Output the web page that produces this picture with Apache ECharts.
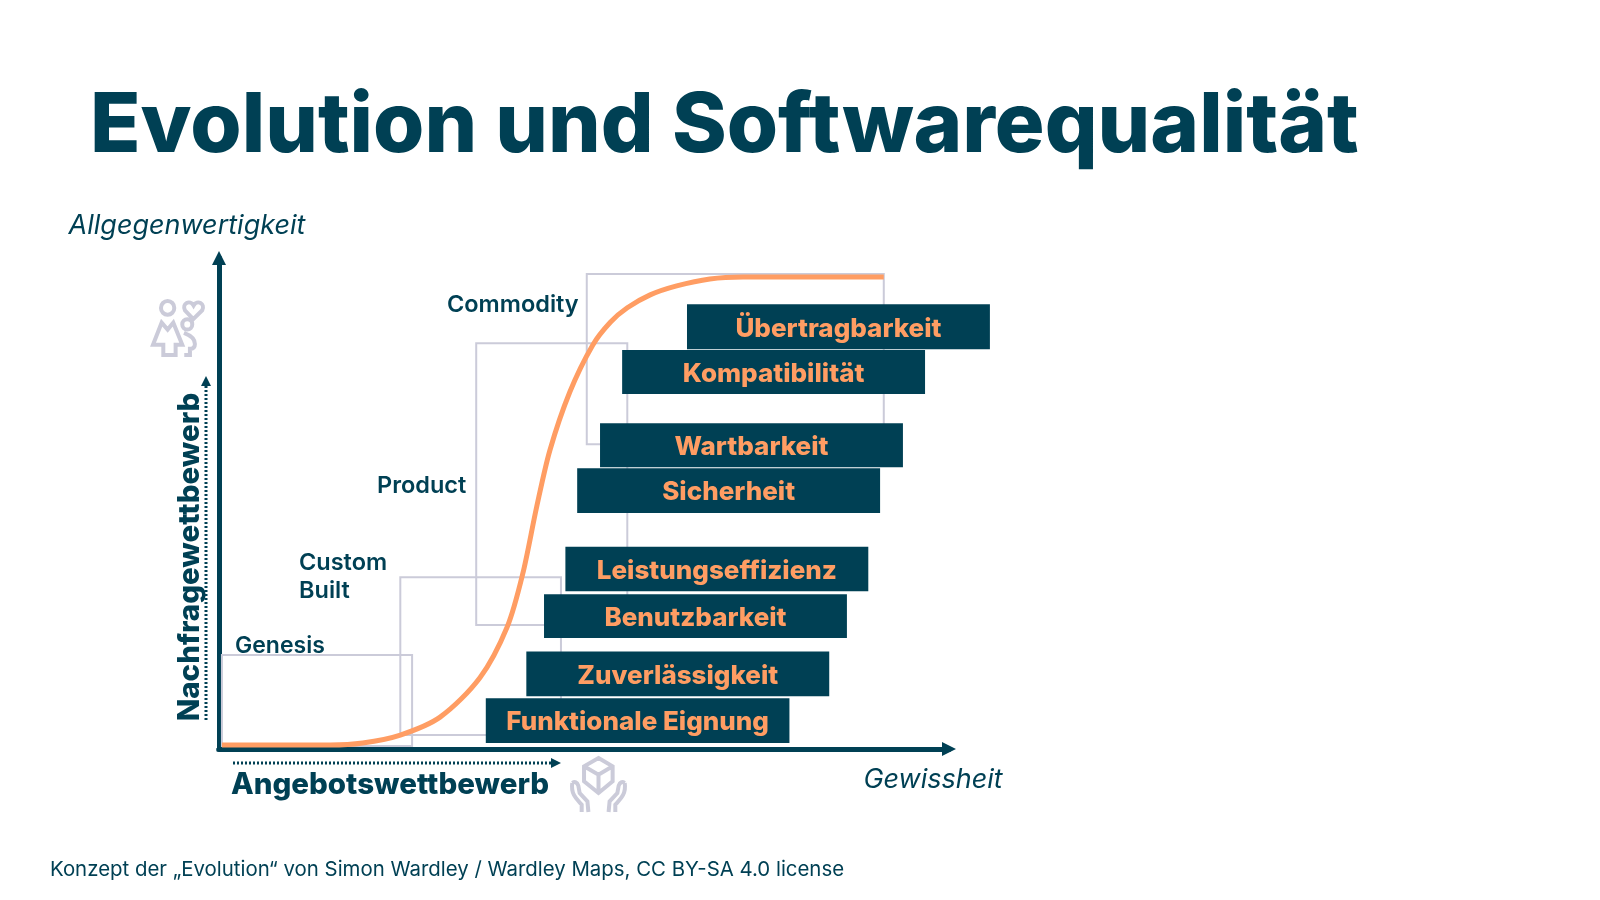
<!DOCTYPE html>
<html>
<head>
<meta charset="utf-8">
<style>
  html, body { margin: 0; background: #fff; }
  #chart { width: 1600px; height: 900px; }
</style>
<script src="https://cdn.jsdelivr.net/npm/echarts@6/dist/echarts.min.js"></script>
</head>
<body>
<div id="chart"></div>
<script>
var curveX = [0.4, 15.1, 19.5, 24.6, 30.0, 35.4, 39.1, 41.2, 43.1, 44.9, 47.6, 50.7, 53.1, 55.4, 58.5, 62.1, 66.6, 71.1, 90.2];
var curveY = [0.8, 0.8, 1.2, 2.8, 6.4, 14.3, 24.5, 35.1, 48.6, 60.0, 71.7, 81.1, 85.7, 88.6, 91.2, 93.0, 94.4, 94.8, 94.8];

var stageNames = ['Genesis', 'Custom\nBuilt', 'Product', 'Commodity'];
var stageX0 = [0.4, 24.6, 34.9, 49.9];
var stageX1 = [26.2, 46.4, 55.4, 90.2];
var stageY0 = [0.6, 2.8, 24.9, 61.2];
var stageY1 = [18.9, 34.5, 81.5, 95.4];

var qualityNames = ['Funktionale Eignung', 'Zuverlässigkeit', 'Benutzbarkeit', 'Leistungseffizienz', 'Sicherheit', 'Wartbarkeit', 'Kompatibilität', 'Übertragbarkeit'];
var qualityX0 = [36.2, 41.7, 44.1, 47.0, 48.6, 51.7, 54.7, 63.5];
var qualityX1 = [77.4, 82.8, 85.2, 88.1, 89.7, 92.8, 95.8, 104.6];
var qualityY0 = [1.2, 10.6, 22.3, 31.7, 47.4, 56.6, 71.3, 80.3];
var qualityY1 = [10.2, 19.6, 31.1, 40.6, 56.4, 65.4, 80.1, 89.3];

var dark = '#004054';
var orange = '#ff9d63';
var grey = '#cbcbd9';
var font = 'Inter';

var familyIcon = 'M 48 55 A 20 20 0 1 0 88 55 A 20 20 0 1 0 48 55 Z ' +
  'M 50 98 L 68 118 L 85 98 L 112 162 L 92 162 L 92 192 L 55 192 L 55 162 L 24 162 Z ' +
  'M 112 103 A 15 15 0 1 0 142 103 A 15 15 0 1 0 112 103 Z ' +
  'M 117 128 Q 150 140 150 160 Q 150 174 135 174 L 135 192 L 118 192 ' +
  'M 145 88 L 120 62 C 110 42 135 30 146 48 C 157 30 182 42 172 62 Z';
var handsIcon = 'M 118 25 L 160 50 L 160 95 L 118 130 L 75 95 L 75 50 Z ' +
  'M 75 50 L 118 75 L 160 50 M 118 75 L 118 130 ' +
  'M 40 100 C 35 135 55 150 68 165 L 68 187 M 40 100 Q 52 92 58 108 L 62 130 L 85 155 L 88 187 ' +
  'M 196 100 C 201 135 181 150 168 165 L 168 187 M 196 100 Q 184 92 178 108 L 174 130 L 151 155 L 148 187';

var stageData = stageNames.map(function (n, i) {
  return [stageX0[i], stageX1[i], stageY0[i], stageY1[i], n];
});
var qualityData = qualityNames.map(function (n, i) {
  return [qualityX0[i], qualityX1[i], qualityY0[i], qualityY1[i], n];
});
var curveData = curveX.map(function (x, i) {
  return [x, curveY[i]];
});

function rectOf(api) {
  var a = api.coord([api.value(0), api.value(3)]);
  var b = api.coord([api.value(1), api.value(2)]);
  return { x: a[0], y: a[1], width: b[0] - a[0], height: b[1] - a[1] };
}

var chart = echarts.init(document.getElementById('chart'), null, { renderer: 'canvas' });

var option = {
  animation: false,
  backgroundColor: '#fff',
  title: [
    {
      text: 'Evolution und Softwarequalität',
      left: 85, top: 81,
      textStyle: { color: dark, fontFamily: font, fontWeight: 800, fontSize: 83 }
    },
    {
      text: 'Konzept der „Evolution“ von Simon Wardley / Wardley Maps, CC BY-SA 4.0 license',
      left: 45, top: 855,
      textStyle: { color: dark, fontFamily: font, fontWeight: 400, fontSize: 20.4 }
    }
  ],
  // axes stop at the base of the arrow head, the head itself sticks out to the tip
  grid: { left: 219, top: 258, width: 730, height: 491 },
  xAxis: {
    type: 'value', min: 0, max: 99.05,
    name: 'Gewissheit', nameLocation: 'end', nameGap: -16,
    nameTextStyle: {
      color: dark, fontFamily: font, fontStyle: 'italic', fontSize: 27,
      align: 'center', verticalAlign: 'top', padding: [17, 0, 0, 0]
    },
    axisLine: {
      show: true, onZero: false,
      symbol: ['none', 'triangle'], symbolSize: [14, 14],
      lineStyle: { color: dark, width: 5 }
    },
    axisTick: { show: false }, axisLabel: { show: false }, splitLine: { show: false }
  },
  yAxis: {
    type: 'value', min: 0, max: 98.6,
    name: 'Allgegenwertigkeit', nameLocation: 'end', nameGap: 19,
    nameTextStyle: {
      color: dark, fontFamily: font, fontStyle: 'italic', fontSize: 27,
      align: 'center', padding: [0, 64, 0, 0]
    },
    axisLine: {
      show: true, onZero: false,
      symbol: ['none', 'triangle'], symbolSize: [14, 14],
      lineStyle: { color: dark, width: 5 }
    },
    axisTick: { show: false }, axisLabel: { show: false }, splitLine: { show: false }
  },
  series: [
    {
      // grey boxes of the four stages
      type: 'custom',
      z: 1,
      data: stageData,
      renderItem: function (params, api) {
        return {
          type: 'rect',
          shape: rectOf(api),
          style: { fill: 'none', stroke: grey, lineWidth: 2 }
        };
      }
    },
    {
      type: 'line',
      z: 2,
      data: curveData,
      smooth: 0.3,
      showSymbol: false,
      lineStyle: { color: orange, width: 5 }
    },
    {
      type: 'custom',
      z: 3,
      data: qualityData,
      renderItem: function (params, api) {
        return {
          type: 'rect',
          shape: rectOf(api),
          style: { fill: dark },
          textContent: {
            style: {
              text: qualityNames[params.dataIndex],
              fill: orange,
              fontFamily: font, fontWeight: 800, fontSize: 26
            }
          },
          textConfig: { position: 'inside', offset: [0, 2] }
        };
      }
    },
    {
      // the two grey icons, graphic component has no path element
      type: 'custom',
      coordinateSystem: 'none',
      z: 4,
      data: [0],
      renderItem: function () {
        return {
          type: 'group',
          children: [
            {
              type: 'path',
              shape: { x: 153, y: 301, width: 50, height: 54, layout: 'cover', pathData: familyIcon },
              style: { fill: 'none', stroke: grey, lineWidth: 4 }
            },
            {
              type: 'path',
              shape: { x: 572, y: 758, width: 53, height: 54, layout: 'cover', pathData: handsIcon },
              style: { fill: 'none', stroke: grey, lineWidth: 4 }
            }
          ]
        };
      }
    }
  ],
  graphic: [
    { type: 'text', x: 235, y: 646, style: { text: 'Genesis', fill: dark, font: '600 23px ' + font, verticalAlign: 'middle' } },
    { type: 'text', x: 299, y: 563, style: { text: 'Custom', fill: dark, font: '600 23.5px ' + font, verticalAlign: 'middle' } },
    { type: 'text', x: 299, y: 591, style: { text: 'Built', fill: dark, font: '600 23.5px ' + font, verticalAlign: 'middle' } },
    { type: 'text', x: 377, y: 486, style: { text: 'Product', fill: dark, font: '600 23.5px ' + font, verticalAlign: 'middle' } },
    { type: 'text', x: 447, y: 305, style: { text: 'Commodity', fill: dark, font: '600 23.5px ' + font, verticalAlign: 'middle' } },
    { type: 'text', x: 231, y: 785, style: { text: 'Angebotswettbewerb', fill: dark, font: '800 29.5px ' + font, verticalAlign: 'middle' } },
    {
      type: 'text', x: 190, y: 557, rotation: Math.PI / 2,
      style: { text: 'Nachfragewettbewerb', fill: dark, font: '800 29.5px ' + font, align: 'center', verticalAlign: 'middle' }
    },
    // corner where the two axis lines meet
    { type: 'rect', shape: { x: 216.5, y: 748, width: 3, height: 3.5 }, style: { fill: dark } },
    // dotted competition arrows
    { type: 'line', shape: { x1: 233, y1: 763, x2: 553, y2: 763 }, style: { stroke: dark, lineWidth: 3, lineDash: [2, 2] } },
    { type: 'polygon', shape: { points: [[551, 758], [561, 763], [551, 768]] }, style: { fill: dark } },
    { type: 'line', shape: { x1: 206, y1: 720, x2: 206, y2: 385 }, style: { stroke: dark, lineWidth: 3, lineDash: [2, 2] } },
    { type: 'polygon', shape: { points: [[201, 386], [206, 376], [211, 386]] }, style: { fill: dark } }
  ]
};

chart.setOption(option);
</script>
</body>
</html>
